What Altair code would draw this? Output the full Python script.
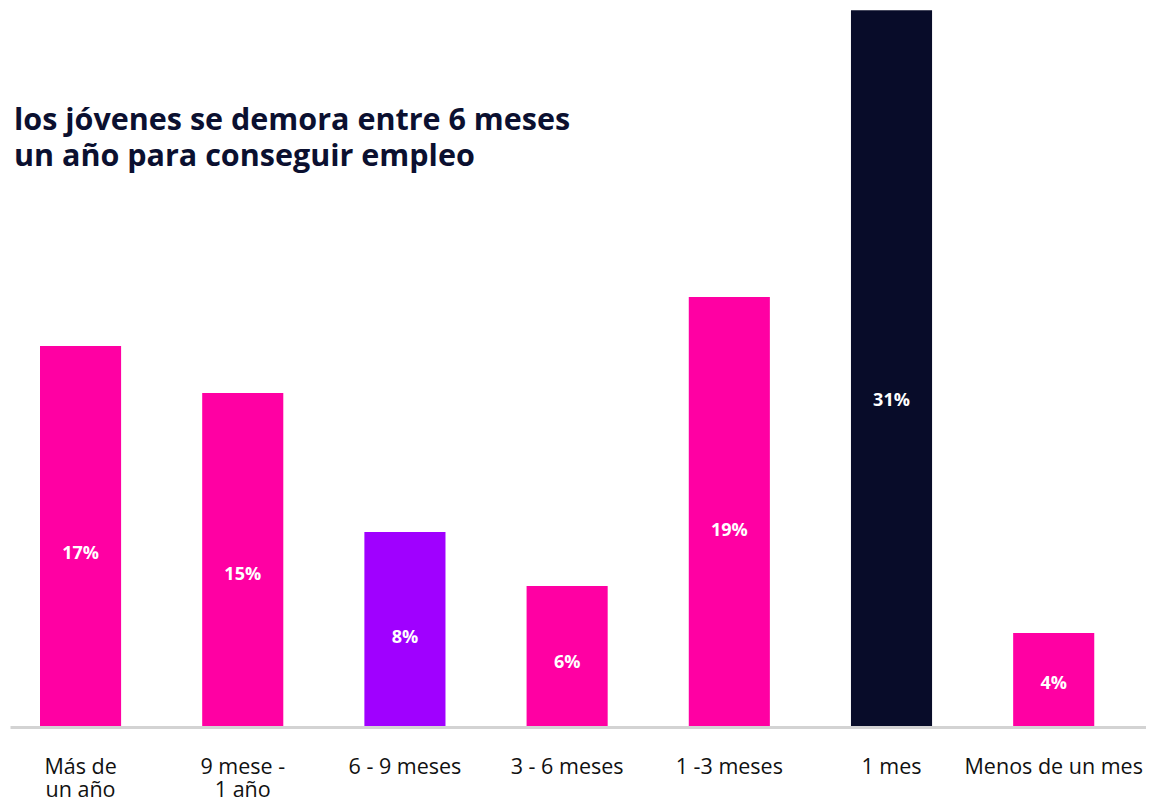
import altair as alt
import pandas as pd

categories = ["Más de\nun año", "9 mese -\n1 año", "6 - 9 meses", "3 - 6 meses",
              "1 -3 meses", "1 mes", "Menos de un mes"]
values = [16.96, 14.86, 8.68, 6.27, 19.14, 31.9, 4.18]
labels = ["17%", "15%", "8%", "6%", "19%", "31%", "4%"]
subtitle_lines = ["e los jóvenes se demora entre 6 meses", "e un año para conseguir empleo"]

PINK = "#FF00A3"
PURPLE = "#A000FF"
NAVY = "#080C29"
bar_colors = [PINK, PINK, PURPLE, PINK, PINK, NAVY, PINK]

df = pd.DataFrame({"cat": categories, "value": values, "label": labels})

x_enc = alt.X("cat:N", sort=categories,
              scale=alt.Scale(paddingInner=0.5, paddingOuter=0.252, align=0.367),
              axis=alt.Axis(title=None, labelAngle=0, ticks=False, domainColor="#D3D3D3",
                            domainWidth=3, labelFont="Open Sans", labelFontSize=21.5,
                            labelColor="#111111", labelPadding=29, labelLineHeight=23,
                            labelLimit=400, labelOverlap=False,
                            labelExpr="split(datum.label, '\\n')", zindex=1))
y_scale = alt.Scale(domain=[0, 32], nice=False)

base = alt.Chart(df)

bars = base.mark_bar().encode(
    x=x_enc,
    y=alt.Y("value:Q", scale=y_scale, axis=None),
    color=alt.Color("cat:N", scale=alt.Scale(domain=categories, range=bar_colors), legend=None),
)

texts = base.transform_calculate(ly="datum.value * 0.455").mark_text(
    font="Open Sans", fontSize=18, fontWeight="bold", color="white", baseline="middle"
).encode(
    x=alt.X("cat:N", sort=categories),
    y=alt.Y("ly:Q", scale=y_scale),
    text="label:N",
)

subtitle = alt.Chart(pd.DataFrame({"t": [0]})).mark_text(
    font="Open Sans", fontSize=30.5, fontWeight="bold", color="#0B1030",
    align="left", baseline="alphabetic", lineHeight=36
).encode(
    x=alt.value(-22), y=alt.value(122), text=alt.value(subtitle_lines)
)

chart = alt.layer(bars, texts, subtitle).properties(
    width=1136, height=719,
    autosize=alt.AutoSizeParams(type="none"),
    padding={"left": 2, "top": 0, "right": 0, "bottom": 72},
).configure_view(stroke=None)

chart.save("out.html", embed_options={"renderer": "svg", "actions": False})
